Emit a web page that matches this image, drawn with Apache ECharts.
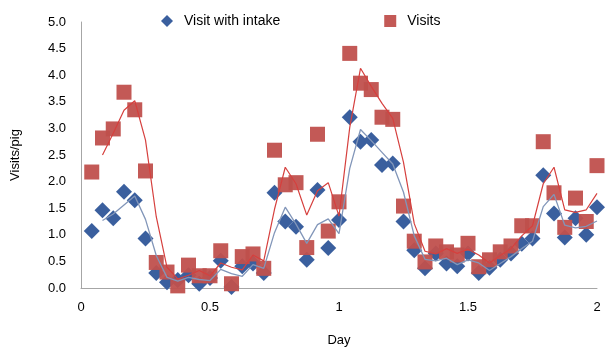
<!DOCTYPE html>
<html>
<head>
<meta charset="utf-8">
<script src="https://cdn.jsdelivr.net/npm/echarts@6/dist/echarts.min.js"></script>
<style>
  html, body { margin: 0; padding: 0; background: #fff; }
  #chart { width: 610px; height: 353px; }
</style>
</head>
<body>
<div id="chart"></div>
<script>
// hour of observation (x axis is in days, hour / 24)
const hours = [1, 2, 3, 4, 5, 6, 7, 8, 9, 10, 11, 12, 13, 14, 15, 16, 17, 18, 19, 20, 21, 22, 23, 24,
  25, 26, 27, 28, 29, 30, 31, 32, 33, 34, 35, 36, 37, 38, 39, 40, 41, 42, 43, 44, 45, 46, 47, 48]

// Visits/pig
const visits = [2.18, 2.82, 2.99, 3.68, 3.35, 2.20, 0.48, 0.30, 0.04, 0.43, 0.23, 0.23,
  0.70, 0.08, 0.59, 0.64, 0.37, 2.59, 1.94, 1.98, 0.76, 2.89, 1.07, 1.62,
  4.41, 3.85, 3.73, 3.21, 3.17, 1.54, 0.88, 0.49, 0.79, 0.68, 0.62, 0.84,
  0.40, 0.53, 0.68, 0.79, 1.17, 1.17, 2.75, 1.79, 1.14, 1.69, 1.25, 2.30]

// Visits with intake/pig
const intake = [1.07, 1.46, 1.31, 1.81, 1.65, 0.93, 0.28, 0.11, 0.15, 0.24, 0.08, 0.19,
  0.51, 0.02, 0.41, 0.46, 0.28, 1.79, 1.25, 1.15, 0.53, 1.84, 0.75, 1.28,
  3.21, 2.75, 2.78, 2.31, 2.34, 1.25, 0.71, 0.37, 0.65, 0.46, 0.41, 0.65,
  0.28, 0.38, 0.53, 0.65, 0.83, 0.93, 2.12, 1.40, 0.95, 1.31, 1.00, 1.52]

// trend lines as drawn in the picture (start at hour 2)
const visitsTrend = [2.50, 2.91, 3.34, 3.52, 2.78, 1.34, 0.39, 0.17, 0.24, 0.33, 0.23,
  0.47, 0.39, 0.34, 0.62, 0.51, 1.48, 2.27, 1.96, 1.37, 1.83, 1.98, 1.35,
  3.02, 4.13, 3.79, 3.47, 3.19, 2.36, 1.21, 0.69, 0.64, 0.74, 0.65, 0.73,
  0.62, 0.47, 0.61, 0.74, 0.98, 1.17, 1.96, 2.27, 1.47, 1.42, 1.47, 1.78]
const intakeTrend = [1.27, 1.39, 1.56, 1.73, 1.29, 0.61, 0.20, 0.13, 0.20, 0.16, 0.14,
  0.35, 0.27, 0.22, 0.44, 0.37, 1.04, 1.52, 1.20, 0.84, 1.19, 1.30, 1.02,
  2.25, 2.98, 2.77, 2.55, 2.33, 1.80, 0.98, 0.54, 0.51, 0.56, 0.44, 0.53,
  0.47, 0.33, 0.46, 0.59, 0.74, 0.88, 1.53, 1.76, 1.18, 1.13, 1.16, 1.26]

const xTicks = [0, 0.5, 1, 1.5, 2]

const day = h => h / 24
const pts = arr => arr.map((v, i) => [day(hours[i]), v])
const trendPts = arr => arr.map((v, i) => [day(hours[i + 1]), v])

const chart = echarts.init(document.getElementById('chart'))
const font = 'Liberation Sans, Arial, sans-serif'

chart.setOption({
  animation: false,
  textStyle: { fontFamily: font },
  grid: { left: 81, right: 13, top: 22, bottom: 65 },
  legend: {
    data: ['Visit with intake', 'Visits'],
    left: 156,
    top: 9,
    itemWidth: 12,
    itemHeight: 12,
    itemGap: 104,
    textStyle: { fontSize: 14, color: '#000', fontFamily: font, padding: [0, 0, 0, 6] }
  },
  xAxis: {
    type: 'value',
    min: 0,
    max: 2,
    interval: 0.5,
    name: 'Day',
    nameLocation: 'middle',
    nameGap: 46,
    nameTextStyle: { fontSize: 13, color: '#000' },
    splitLine: { show: false },
    axisTick: { show: false },
    axisLine: { lineStyle: { color: '#a6a6a6', width: 1 } },
    axisLabel: {
      color: '#000', fontSize: 13, margin: 13,
      formatter: v => xTicks.includes(v) ? String(v) : ''
    }
  },
  yAxis: {
    type: 'value',
    min: 0,
    max: 5,
    interval: 0.5,
    name: 'Visits/pig',
    nameLocation: 'middle',
    nameGap: 59,
    nameTextStyle: { fontSize: 13, color: '#000' },
    splitLine: { show: false },
    axisTick: { show: false },
    axisLine: { show: true, lineStyle: { color: '#a6a6a6', width: 1 } },
    axisLabel: { color: '#000', fontSize: 13, margin: 15, formatter: v => v.toFixed(1) }
  },
  series: [
    {
      name: 'Visit with intake',
      type: 'scatter',
      symbol: 'diamond',
      symbolSize: 16,
      itemStyle: { color: '#3a5f9e', opacity: 1 },
      data: pts(intake)
    },
    {
      name: 'Visits',
      type: 'scatter',
      symbol: 'rect',
      symbolSize: 15,
      itemStyle: { color: '#c0504d', opacity: 0.95 },
      data: pts(visits)
    },
    {
      name: 'intake trend',
      type: 'line',
      symbol: 'none',
      lineStyle: { color: '#8296b9', width: 1.3 },
      data: trendPts(intakeTrend)
    },
    {
      name: 'visits trend',
      type: 'line',
      symbol: 'none',
      lineStyle: { color: '#d6403e', width: 1.2 },
      data: trendPts(visitsTrend)
    }
  ]
})
</script>
</body>
</html>
